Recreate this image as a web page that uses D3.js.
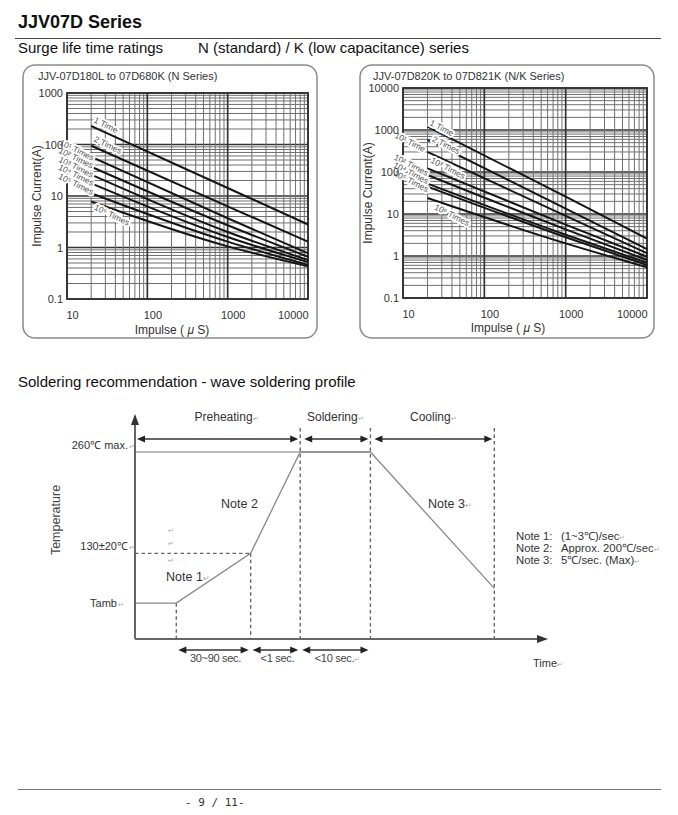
<!DOCTYPE html>
<html><head><meta charset="utf-8">
<script src="https://cdn.jsdelivr.net/npm/d3@7"></script>
<style>
body{margin:0;background:#fff}
svg{display:block;font-family:"Liberation Sans",Arial,sans-serif}
</style>
</head><body>
<svg id="page" width="678" height="815"></svg>
<script>
// ---------------- DATA ----------------
const impulseTicks = [10, 100, 1000, 10000];            // µs
const nCurrentTicks = [0.1, 1, 10, 100, 1000];          // A
const kCurrentTicks = [0.1, 1, 10, 100, 1000, 10000];   // A
const pulseWidths = [20, 1000, 10000];                  // µs sample points of each curve
const surgeLabels = ["1 Time", "2 Times", "10¹ Times", "10² Times", "10³ Times", "10⁴ Times", "10⁵ Times", "10⁶ Times"];
const surgeLabelsK = ["1 Time", "2 Times", "10¹ Time", "10² Times", "10³ Times", "10⁴ Times", "10⁵ Times", "10⁶ Times"];
const nSeriesCurrent = [
  [229, 14.3, 2.8],
  [95, 6.3, 1.3],
  [58, 3.7, 0.77],
  [37, 2.7, 0.66],
  [26, 2.0, 0.57],
  [17.6, 1.6, 0.52],
  [11.3, 1.3, 0.46],
  [7.8, 1.05, 0.43]
];
const kSeriesCurrent = [
  [1200, 25.8, 2.6],
  [580, 13.5, 1.45],
  [300, 9.0, 1.16],
  [122, 5.6, 0.96],
  [85, 4.3, 0.80],
  [53, 3.2, 0.69],
  [45, 2.8, 0.61],
  [24, 2.0, 0.54]
];
// label anchors in data units [impulse µs, current A]
const nLabelAnchor = [[30.6, 239], [32.4, 98], [13.3, 78], [13, 55], [13, 36.6], [13, 25.6], [13, 17.1], [36.3, 4.3]];
const kLabelAnchor = [[30, 1117], [34, 440], [12.2, 518], [12.6, 147], [35.7, 124], [12.6, 95], [12.6, 61], [40, 9.5]];

// soldering profile (schematic)
const stageNames = ["Preheating", "Soldering", "Cooling"];
const profileTime = [0, 10, 28, 40, 57, 87];
const profileTemp = [66, 66, 130, 260, 260, 85];
const tempLevelLabels = ["260℃ max.", "130±20℃", "Tamb"];
const tempLevelValues = [260, 130, 66];
const intervalLabels = ["30~90 sec.", "<1 sec.", "<10 sec."];
const noteNames = ["Note 1:", "Note 2:", "Note 3:"];
const noteTexts = ["(1~3℃)/sec", "Approx. 200℃/sec", "5℃/sec. (Max)"];

// ---------------- PAGE ----------------
const svg = d3.select("#page");
const RET = "↵";

svg.append("text").attr("x", 18).attr("y", 28).attr("font-size", 18).attr("font-weight", "bold").attr("fill", "#111").text("JJV07D Series");
svg.append("line").attr("x1", 15).attr("x2", 661).attr("y1", 38.5).attr("y2", 38.5).attr("stroke", "#444").attr("stroke-width", 1.2);
svg.append("text").attr("x", 18).attr("y", 53).attr("font-size", 15).attr("fill", "#111").text("Surge life time ratings");
svg.append("text").attr("x", 198).attr("y", 53).attr("font-size", 15).attr("fill", "#111").text("N (standard) / K (low capacitance) series");

function drawChart(cfg) {
  const g = svg.append("g");
  g.append("rect").attr("x", cfg.box[0]).attr("y", cfg.box[1]).attr("width", cfg.box[2]).attr("height", cfg.box[3])
    .attr("rx", 12).attr("fill", "#fff").attr("stroke", "#8a8a8a").attr("stroke-width", 1.5);
  g.append("text").attr("x", cfg.titleX).attr("y", 80).attr("font-size", 11).attr("fill", "#333").text(cfg.title);

  const x = d3.scaleLog().domain([impulseTicks[0], impulseTicks[impulseTicks.length - 1]]).range([cfg.left, cfg.right]);
  const yt = cfg.yTicks;
  const y = d3.scaleLog().domain([yt[0], yt[yt.length - 1]]).range([cfg.bottom, cfg.top]);

  const gridVals = ticks => {
    const out = [];
    for (let i = 0; i < ticks.length - 1; i++)
      for (let k = 1; k < 10; k++) out.push({ v: ticks[i] * k, major: k === 1 });
    out.push({ v: ticks[ticks.length - 1], major: true });
    return out;
  };
  const grid = g.append("g");
  grid.selectAll("line.h").data(gridVals(yt)).join("line").attr("class", "h")
    .attr("x1", cfg.left).attr("x2", cfg.right)
    .attr("y1", d => y(d.v)).attr("y2", d => y(d.v))
    .attr("stroke", d => d.major ? "#333" : "#6f6f6f").attr("stroke-width", d => d.major ? 1.7 : 1);
  grid.selectAll("line.v").data(gridVals(impulseTicks)).join("line").attr("class", "v")
    .attr("y1", cfg.top).attr("y2", cfg.bottom)
    .attr("x1", d => x(d.v)).attr("x2", d => x(d.v))
    .attr("stroke", d => d.major ? "#333" : "#6f6f6f").attr("stroke-width", d => d.major ? 1.7 : 1);
  g.append("rect").attr("x", cfg.left).attr("y", cfg.top).attr("width", cfg.right - cfg.left).attr("height", cfg.bottom - cfg.top)
    .attr("fill", "none").attr("stroke", "#333").attr("stroke-width", 1.8);

  const line = d3.line().x(d => x(d[0])).y(d => y(d[1])).curve(d3.curveMonotoneX);
  g.selectAll("path.s").data(cfg.series).join("path").attr("class", "s")
    .attr("d", s => line(pulseWidths.map((w, i) => [w, s[i]])))
    .attr("fill", "none").attr("stroke", "#151515").attr("stroke-width", 2);

  g.selectAll("text.lbl").data(cfg.anchors).join("text").attr("class", "lbl")
    .attr("transform", d => `translate(${x(d[0])},${y(d[1])}) rotate(${cfg.rot})`)
    .attr("text-anchor", "middle").attr("dy", "0.35em")
    .attr("font-size", 8.5).attr("fill", "#555")
    .attr("stroke", "#fff").attr("stroke-width", 4).attr("stroke-linejoin", "round").attr("paint-order", "stroke")
    .text((d, i) => cfg.labels[i]);

  // axes
  const ax = g.append("g").attr("transform", `translate(0,${cfg.bottom})`)
    .call(d3.axisBottom(x).tickValues(impulseTicks).tickFormat(d3.format("d")).tickSize(0).tickPadding(12));
  ax.select(".domain").remove();
  ax.selectAll("text").attr("font-size", 11).attr("fill", "#333").attr("font-family", "Liberation Sans, Arial, sans-serif")
    .attr("dx", (d, i) => i === impulseTicks.length - 1 ? 0 : 5)
    .attr("text-anchor", (d, i) => i === impulseTicks.length - 1 ? "end" : "middle");
  const ay = g.append("g").attr("transform", `translate(${cfg.left - 4},0)`)
    .call(d3.axisLeft(y).tickValues(yt).tickFormat(d3.format("~g")).tickSize(0).tickPadding(0));
  ay.select(".domain").remove();
  ay.selectAll("text").attr("font-size", 11).attr("fill", "#333").attr("font-family", "Liberation Sans, Arial, sans-serif");

  g.append("text").attr("transform", `translate(${cfg.yTitleX},${(cfg.top + cfg.bottom) / 2}) rotate(-90)`)
    .attr("text-anchor", "middle").attr("dy", "0.35em").attr("font-size", 12).attr("fill", "#333").text("Impulse Current(A)");
  const xt = g.append("text").attr("x", cfg.xTitleX).attr("y", cfg.xTitleY).attr("text-anchor", "middle").attr("font-size", 12).attr("fill", "#333");
  xt.append("tspan").text("Impulse ( ");
  xt.append("tspan").attr("font-style", "italic").text("μ");
  xt.append("tspan").text(" S)");
}

drawChart({
  box: [23, 65, 294, 273], title: "JJV-07D180L to 07D680K (N Series)", titleX: 38,
  left: 67, right: 308, top: 93, bottom: 299, yTicks: nCurrentTicks,
  series: nSeriesCurrent, labels: surgeLabels, anchors: nLabelAnchor, rot: 26,
  yTitleX: 37, xTitleX: 172, xTitleY: 334
});
drawChart({
  box: [360, 65, 294, 273], title: "JJV-07D820K to 07D821K (N/K Series)", titleX: 373,
  left: 403, right: 647, top: 88, bottom: 298, yTicks: kCurrentTicks,
  series: kSeriesCurrent, labels: surgeLabelsK, anchors: kLabelAnchor, rot: 27,
  yTitleX: 368, xTitleX: 508, xTitleY: 332
});

// ---------------- SOLDERING ----------------
svg.append("text").attr("x", 18).attr("y", 387).attr("font-size", 15).attr("fill", "#111").text("Soldering recommendation - wave soldering profile");

const sx = d3.scaleLinear().domain([0, 100]).range([135, 548]);
const sy = d3.scaleLinear().domain([20, 260]).range([639, 452]);
const d = svg.append("g");

function retText(sel, str, size) {
  sel.append("tspan").text(str);
  sel.append("tspan").attr("font-size", size * 0.6).attr("fill", "#aaa").text(RET);
}
function arrowH(x1, x2, yy) {
  d.append("line").attr("x1", x1 + 5).attr("x2", x2 - 5).attr("y1", yy).attr("y2", yy).attr("stroke", "#333").attr("stroke-width", 1.3);
  d.append("path").attr("d", `M${x1},${yy} L${x1 + 8},${yy - 3.5} L${x1 + 8},${yy + 3.5}Z`).attr("fill", "#222");
  d.append("path").attr("d", `M${x2},${yy} L${x2 - 8},${yy - 3.5} L${x2 - 8},${yy + 3.5}Z`).attr("fill", "#222");
}

const dash = "3.5,3";
[1, 2].forEach(i => {
  d.append("line").attr("x1", sx(profileTime[i])).attr("x2", sx(profileTime[i]))
    .attr("y1", sy(profileTemp[i])).attr("y2", sy(20)).attr("stroke", "#666").attr("stroke-width", 1.4).attr("stroke-dasharray", dash);
});
[3, 4, 5].forEach(i => {
  d.append("line").attr("x1", sx(profileTime[i])).attr("x2", sx(profileTime[i]))
    .attr("y1", sy(260) - 24).attr("y2", sy(20)).attr("stroke", "#666").attr("stroke-width", 1.4).attr("stroke-dasharray", dash);
});
d.append("line").attr("x1", sx(0)).attr("x2", sx(profileTime[2])).attr("y1", sy(130)).attr("y2", sy(130))
  .attr("stroke", "#666").attr("stroke-width", 1.2).attr("stroke-dasharray", dash);

d.append("line").attr("x1", sx(0)).attr("x2", sx(profileTime[4])).attr("y1", sy(260)).attr("y2", sy(260)).attr("stroke", "#777").attr("stroke-width", 1.1);

const pline = d3.line().x(p => sx(p[0])).y(p => sy(p[1]));
d.append("path").attr("d", pline(profileTime.map((t, i) => [t, profileTemp[i]])))
  .attr("fill", "none").attr("stroke", "#888").attr("stroke-width", 1.3);

d.append("line").attr("x1", sx(0)).attr("x2", sx(0)).attr("y1", sy(20)).attr("y2", 423).attr("stroke", "#666").attr("stroke-width", 2);
d.append("path").attr("d", `M${sx(0)},414 L${sx(0) - 4},425 L${sx(0) + 4},425Z`).attr("fill", "#333");
d.append("line").attr("x1", sx(0)).attr("x2", sx(100) - 8).attr("y1", sy(20)).attr("y2", sy(20)).attr("stroke", "#666").attr("stroke-width", 2);
d.append("path").attr("d", `M${sx(100)},${sy(20)} L${sx(100) - 11},${sy(20) - 4} L${sx(100) - 11},${sy(20) + 4}Z`).attr("fill", "#333");

const stageBounds = [[profileTime[0], profileTime[3]], [profileTime[3], profileTime[4]], [profileTime[4], profileTime[5]]];
const stageShift = [9, 0, 1];
stageBounds.forEach((b, i) => {
  arrowH(sx(b[0]) + (i === 0 ? 2 : 4), sx(b[1]) - 2, sy(260) - 13);
  const t = d.append("text").attr("x", (sx(b[0]) + sx(b[1])) / 2 + stageShift[i]).attr("y", 421)
    .attr("text-anchor", "middle").attr("font-size", 12).attr("fill", "#333");
  retText(t, stageNames[i], 12);
});

const tempDy = [-3, -3, 4];
tempLevelLabels.forEach((lab, i) => {
  const xr = i === 2 ? 117 : 128;
  d.append("text").attr("x", xr).attr("y", sy(tempLevelValues[i]) + tempDy[i])
    .attr("text-anchor", "end").attr("font-size", 11).attr("fill", "#333").text(lab);
  d.append("text").attr("x", xr + 1).attr("y", sy(tempLevelValues[i]) + tempDy[i])
    .attr("font-size", 7).attr("fill", "#aaa").text(RET);
});

d.append("text").attr("transform", `translate(56,520) rotate(-90)`).attr("text-anchor", "middle").attr("dy", "0.35em")
  .attr("font-size", 12.5).attr("fill", "#444").text("Temperature");

d.append("text").attr("x", 221).attr("y", 508).attr("font-size", 12.5).attr("fill", "#333").text("Note 2");
retText(d.append("text").attr("x", 166).attr("y", 581).attr("font-size", 12.5).attr("fill", "#333"), "Note 1", 12.5);
retText(d.append("text").attr("x", 428).attr("y", 508).attr("font-size", 12.5).attr("fill", "#333"), "Note 3", 12.5);
[533, 546, 563].forEach(yy => d.append("text").attr("x", 168).attr("y", yy).attr("font-size", 7).attr("fill", "#aaa").text(RET));

noteNames.forEach((n, i) => {
  d.append("text").attr("x", 516).attr("y", 540 + i * 12).attr("font-size", 11.3).attr("fill", "#333").text(n);
  retText(d.append("text").attr("x", 561).attr("y", 540 + i * 12).attr("font-size", 11.3).attr("fill", "#333"), noteTexts[i], 11.3);
});

const intervals = [[1, 2], [2, 3], [3, 4]];
intervals.forEach((iv, i) => {
  const x1 = sx(profileTime[iv[0]]) + 2, x2 = sx(profileTime[iv[1]]) - 2;
  arrowH(x1, x2, sy(20) + 11);
  const t = d.append("text").attr("x", (x1 + x2) / 2 + 2).attr("y", sy(20) + 23).attr("text-anchor", "middle")
    .attr("font-size", 11).attr("fill", "#444").attr("letter-spacing", -0.3);
  if (i === 2) retText(t, intervalLabels[i], 11); else t.text(intervalLabels[i]);
});
retText(d.append("text").attr("x", 533).attr("y", 667).attr("font-size", 11).attr("fill", "#333"), "Time", 11);

svg.append("line").attr("x1", 18).attr("x2", 661).attr("y1", 789.5).attr("y2", 789.5).attr("stroke", "#777").attr("stroke-width", 1);
svg.append("text").attr("x", 185).attr("y", 806).attr("font-size", 11).attr("font-family", "DejaVu Sans Mono, monospace").attr("fill", "#333").text("- 9 / 11-");
</script>
</body></html>
